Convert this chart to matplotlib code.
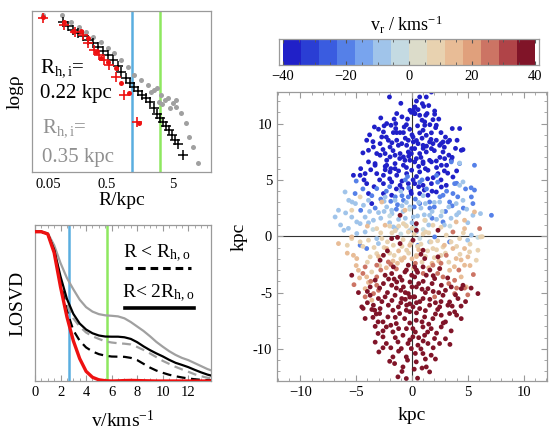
import numpy as np
import matplotlib
matplotlib.use("Agg")
import matplotlib.pyplot as plt
from matplotlib.colors import ListedColormap, BoundaryNorm
from matplotlib.ticker import MultipleLocator, FixedLocator, NullLocator, FuncFormatter

plt.rcParams['font.family'] = ['Liberation Serif', 'DejaVu Serif']
plt.rcParams['mathtext.fontset'] = 'custom'
plt.rcParams['mathtext.rm'] = 'Liberation Serif'
plt.rcParams['mathtext.it'] = 'Liberation Serif:italic'
plt.rcParams['mathtext.bf'] = 'Liberation Serif:bold'

# ---------------- data: density profile (top-left) ----------------
black_R = [0.108, 0.128, 0.153, 0.182, 0.216, 0.258, 0.307, 0.366, 0.435, 0.518, 0.617, 0.734,
           0.815, 0.97, 1.11, 1.28, 1.47, 1.69, 1.95, 2.24, 2.57, 2.86, 3.18, 3.53, 3.91, 4.35,
           4.83, 5.36, 5.95, 7.09]
black_logrho = [9.32, 9.07, 8.82, 8.63, 8.45, 8.20, 8.01, 7.76, 7.52, 7.27, 6.96, 6.58,
                6.21, 5.84, 5.53, 5.28, 5.03, 4.78, 4.60, 4.35, 3.98, 3.60, 3.35, 3.11, 2.86, 2.61,
                2.30, 1.99, 1.74, 1.06]
red_cross_R = [0.055, 0.111, 0.164, 0.216, 0.258, 0.318, 0.378, 0.45, 0.536, 0.684, 0.905, 1.43]
red_cross_logrho = [9.55, 9.13, 8.70, 8.51, 8.01, 7.58, 7.27, 6.96, 6.65, 5.90, 4.78, 3.11]
red_dot_R = [0.054, 0.111, 0.153, 0.202, 0.258, 0.34, 0.405, 0.518, 0.684, 0.815, 1.08, 1.53]
red_dot_logrho = [9.63, 9.32, 8.76, 8.76, 8.32, 7.45, 7.08, 6.83, 6.46, 5.53, 4.91, 3.04]
grey_R = [0.055, 0.107, 0.143, 0.188, 0.24, 0.307, 0.405, 0.518, 0.638, 0.815, 1.04, 1.28,
          1.64, 2.09, 2.58, 3.29, 3.78, 4.2, 5.0, 5.55, 6.6, 7.87, 8.73, 10.0, 12.0,
          2.35, 2.9, 3.5, 4.6, 5.7, 3.05]
grey_logrho = [9.75, 9.75, 9.32, 9.01, 8.70, 8.39, 8.07, 7.70, 7.39, 6.96, 6.52, 6.02,
               5.71, 5.40, 5.09, 4.78, 4.47, 4.60, 4.29, 4.04, 3.66, 3.04, 2.17, 1.55, 0.56,
               4.97, 5.22, 4.22, 3.98, 4.47, 4.35]
R_tick_pos = [0.0655, 0.5, 5]
R_ticklabels = ["0.05", "0.5", "5"]
R_blue = 1.22
R_green = 3.2

# ---------------- data: LOSVD (bottom-left) ----------------
v_grid = [0, 0.5, 1, 1.5, 2, 2.5, 3, 3.5, 4, 4.5, 5, 5.5, 6, 6.5, 7, 7.5, 8, 8.5, 9, 9.5,
          10, 10.5, 11, 11.5, 12, 12.5, 13, 13.5, 14]
losvd_red = [1.0, 1.0, 0.985, 0.86, 0.63, 0.43, 0.27, 0.15, 0.065, 0.025, 0.008, 0.002, 0.0,
             0.001, 0.003, 0.004, 0.003, 0.002, 0.001, 0, 0, 0, 0, 0, 0, 0, 0, 0, 0]
losvd_black = [1.0, 1.0, 0.985, 0.88, 0.70, 0.55, 0.45, 0.385, 0.345, 0.32, 0.305, 0.298, 0.297,
               0.297, 0.293, 0.282, 0.26, 0.232, 0.207, 0.185, 0.165, 0.142, 0.122, 0.108, 0.093,
               0.075, 0.058, 0.043, 0.032]
losvd_grey = [1.0, 1.0, 0.99, 0.91, 0.79, 0.69, 0.615, 0.545, 0.495, 0.465, 0.448, 0.44, 0.437,
              0.433, 0.42, 0.395, 0.365, 0.335, 0.30, 0.262, 0.23, 0.20, 0.175, 0.155, 0.14,
              0.12, 0.10, 0.08, 0.065]
losvd_grey_dash = [1.0, 1.0, 0.985, 0.88, 0.68, 0.52, 0.42, 0.365, 0.325, 0.30, 0.282, 0.266,
                   0.258, 0.253, 0.25, 0.245, 0.228, 0.208, 0.185, 0.16, 0.135, 0.115, 0.095,
                   0.078, 0.062, 0.045, 0.032, 0.022, 0.015]
losvd_black_dash = [1.0, 1.0, 0.985, 0.87, 0.66, 0.47, 0.34, 0.27, 0.225, 0.198, 0.18, 0.17,
                    0.164, 0.163, 0.162, 0.155, 0.14, 0.115, 0.09, 0.07, 0.055, 0.042, 0.032,
                    0.024, 0.017, 0.012, 0.008, 0.006, 0.004]
v_blue = 2.66
v_green = 5.61

# ---------------- data: sky map coloured by v_r (right) ----------------
vr_levels = [-38, -20, -9, -3, 8, 15, 25, 38]
xy_m38 = [(-2.02,12.36),(-1.37,10.89),(-0.18,11.18),(0.12,11.18),(0.27,11.47),(0.27,10.89),(-3.37,9.70),
    (-2.27,10.0),(-1.88,9.85),(-1.46,10.0),(-1.46,9.56),(-2.56,9.26),(-2.71,8.81),(-1.67,9.2),(-1.37,9.2),
    (-1.07,9.2),(-0.77,9.2),(-4.06,8.52),(-3.9,7.63),(-3.46,7.92),(-2.86,8.22),(-2.12,8.52),(-1.97,7.92),
    (-1.37,8.52),(-1.22,8.07),(-0.92,8.22),(-0.48,8.07),(-0.33,8.52),(0.12,8.37),(-0.03,7.78),(-3.16,7.34),
    (-2.86,7.19),(-2.41,7.34),(-1.97,7.04),(-1.52,7.19),(-1.07,7.34),(-0.77,7.04),(-0.33,7.48),(-0.18,6.74),
    (-0.63,6.74),(-2.27,6.74),(-3.31,6.45),(-1.52,6.45),
    (1.74,12.8),(0.69,12.36),(1.28,12.36),(0.93,11.77),(1.05,11.53),(0.24,11.47),(0.54,11.24),(-0.06,11.0),
    (0.24,10.89),(0.69,10.74),(1.23,10.74),(1.35,10.89),(2.03,11.12),(2.03,10.83),(1.88,10.35),(1.14,10.15),
    (1.14,9.85),(2.18,9.85),(2.12,9.64),(3.61,9.56),(4.27,9.56),(0.99,9.41),(0.69,9.18),(1.74,9.18),
    (1.28,8.96),(0.09,8.81),(3.37,8.52),(3.22,8.37),(4.04,8.52),(2.78,8.37),(1.58,8.37),(1.88,8.22),
    (2.18,8.52),(2.48,8.07),(0.54,8.22),(0.99,8.07),(0.24,7.78),(4.57,7.69),(2.78,7.48),(1.74,7.78),
    (1.28,7.48),(0.69,7.34),(2.93,6.89),(3.52,6.74),(1.58,6.74),(2.18,6.68),(0.39,6.89),(0.99,6.6),
    (-0.06,7.34),
    (-3.31,6.3),(-2.27,6.3),(-1.52,6.0),(-0.77,6.3),(-5.25,5.41),(-4.65,5.41),(-4.2,5.56),(-3.16,5.56),
    (-2.56,5.41),(-1.97,5.71),(-1.37,5.41),(-0.48,5.56),(-0.03,5.86),(-4.06,4.67),(-2.56,4.67),
    (-1.82,4.82),(-1.07,4.52),(-0.33,4.67),(-3.9,3.79),(-3.61,2.9),(-2.56,3.79),(-1.82,3.64),
    (0.24,6.6),(0.99,6.45),(1.74,6.6),(2.63,6.3),(0.69,5.71),(1.43,5.86),(2.33,5.56),(3.67,5.26),
    (0.24,4.67),(0.99,4.52),(1.74,4.67),(2.63,4.37),(3.07,4.52),(-0.06,3.79),(0.69,3.79),(1.43,3.64),
    (2.18,3.93),(4.42,7.63),(2.62,8.22),(0.5,9.8),(-0.5,9.9),(1.6,9.9),(-0.4,10.4),(0.9,8.7),
    (-1.9,6.0),(2.9,5.8),(-2.9,5.0),(1.9,5.2),(0.4,5.3),(-1.1,6.9),(0.6,6.2),(3.3,7.2),(-4.6,6.0),
    (-0.9,4.2),(1.1,4.1),
    (-3.0,9.5),(-2.5,9.8),(-3.8,9.0),(-2.3,8.8),(-1.8,8.3),(-0.6,8.7),(0.4,8.5),(1.3,8.0),(2.0,7.6),
    (2.5,7.0),(-3.5,8.4),(-4.4,7.4),(-2.6,7.7),(-0.2,9.5),(0.9,10.3),(-0.9,10.6),(0.4,12.0),(-1.0,11.8),
    (1.5,11.6),(2.6,9.2),(3.0,8.8),(3.9,7.8),(3.6,7.0),(2.2,6.1),(1.2,6.0),(-0.5,6.1),(-1.2,5.8),
    (-2.4,5.9),(-3.7,5.9),(-4.3,5.0),(-3.4,4.4),(-2.0,5.1),(-0.9,4.9),(0.1,5.0),(1.4,5.1),(2.6,5.0),
    (3.2,5.6),(4.0,5.8),(1.8,4.0),(-1.4,4.2),(-0.1,4.0),(0.6,4.4),(0.0,9.0),(-1.6,10.4),(2.4,10.4),
    (-2.8,10.5),(1.7,8.6),(-0.3,7.1),(0.8,7.0),(1.0,7.8),(-1.7,7.6),(-2.4,6.2),(3.1,6.3),(-3.9,6.6),
    (2.9,7.9),(-0.7,9.7)]
xy_m20 = [(3.52,6.6),(4.27,6.45),(5.6,6.3),(3.82,4.67),(2.78,3.64),(3.67,3.79),(5.32,3.49),(5.46,2.9),
    (0.69,2.9),(1.58,3.04),(3.37,3.04),(2.78,1.27),(7.12,1.86),(-3.16,4.23),(-5.1,3.79),(-0.77,3.19),
    (-0.33,3.49),(-4.65,-0.8),(-4.06,-1.09),(3.37,-0.5),(2.03,-0.06),(0.54,-0.8),(-1.5,3.5),(0.3,3.3),
    (1.3,4.2),(-0.3,4.3),(-2.3,4.0),(2.3,4.8),(-0.6,5.0),(4.8,4.2),(5.3,4.3),(3.0,2.2),(-2.0,4.4),
    (0.9,5.0),(-1.3,2.8),(2.0,2.6),(-5.0,4.9),(-4.4,4.2),
    (-3.6,3.6),(-2.8,3.3),(-1.9,3.1),(-0.9,3.6),(0.2,2.6),(1.6,2.5),(2.5,3.5),(3.1,4.0),(4.1,3.5),
    (4.6,2.5),(-4.6,2.3),(-3.3,2.5),(0.7,4.8),(-0.4,5.3),(2.2,5.4),(5.6,4.1),(1.8,1.6),(-1.4,2.4),
    (4.0,4.7),(3.6,2.7)]
xy_m9 = [(4.27,6.5),(4.57,4.82),(4.27,4.52),(4.57,3.19),(2.48,3.04),(3.96,2.9),(1.58,1.86),(5.46,1.86),
    (6.14,2.01),(5.32,0.1),(-2.41,3.49),(-6.0,3.93),(-5.67,3.19),(-5.37,3.04),(-5.07,2.9),(-4.35,2.75),
    (-3.9,3.19),(-6.59,2.31),(-6.89,1.71),(-5.95,2.07),(-4.95,1.27),(-4.65,1.12),(-6.1,0.53),(-4.95,0.24),
    (-4.2,0.38),(-3.46,1.42),(-1.67,0.83),(-1.82,2.31),(-2.27,2.6),(-1.52,3.19),(-0.18,2.6),(0.12,1.71),
    (-3.16,-0.21),(-3.01,-0.65),(-0.03,-0.5),(1.58,-0.5),(4.99,-0.35),(-1.0,4.0),(-0.5,3.0),(0.8,2.5),
    (-1.8,2.0),(-0.8,2.2),(0.5,1.8),(1.8,2.2),(1.0,3.6),(-1.2,1.5),(1.5,1.0),(0.0,1.2),(2.0,3.0),
    (-2.8,1.6),(3.5,1.6),(-3.8,2.2),(2.6,1.8),(4.2,2.1),(-0.2,0.5),(1.2,2.9),(-2.5,3.1),
    (-5.4,1.7),(-4.2,1.7),(-3.9,1.2),(-2.5,2.2),(-2.0,1.2),(-1.4,0.7),(-0.6,1.6),(0.4,0.4),(1.1,1.9),
    (2.2,1.5),(2.9,1.0),(4.0,1.9),(4.9,2.4),(-6.4,1.0),(-5.7,0.7),(3.3,2.6),(0.6,3.0),(-0.9,2.7),
    (5.0,1.2),(-3.0,2.1)]
xy_m3 = [(-0.2,2.4),(2.7,2.2),(0.3,0.9),(-0.6,1.0),(1.0,0.6),(-2.0,1.8),(1.2,1.4),(-1.0,0.2),
    (0.7,-0.2),(3.4,0.9),(-3.5,0.6),(5.9,-0.1)]
xy_p8 = [(-4.65,3.49),(-5.4,2.31),(-3.16,0.68),(-0.77,1.12),(-0.33,0.38),(-5.4,-0.21),(1.14,1.42),
    (1.88,0.98),(1.23,0.38),(3.07,0.1),(6.29,-0.04),(-4.65,-0.5),(-3.9,-0.35),(-3.75,-1.83),
    (-3.16,-1.54),(-1.67,-0.8),(-0.48,-1.24),(0.12,-2.87),(-3.61,-3.17),(4.27,-0.21),(6.14,-0.06),
    (1.88,-1.09),(2.78,-0.95),(5.16,-1.39),(5.91,-1.24),(0.39,-1.69),(5.76,-2.13),(-1.5,0.5),
    (-0.8,-0.3),(0.2,0.2),(0.8,-0.7),(1.5,0.3),(-2.2,-0.5),(-0.3,-1.5),(1.2,-1.8),(-2.0,0.9),
    (2.3,-0.4),(2.6,0.8),(3.0,-1.5),(-2.5,-1.0),(-1.0,-2.0),(0.9,-2.3),(2.2,-1.2),(-2.9,-2.6),
    (4.0,-0.9),(-0.5,0.9),
    (-4.4,-0.9),(-3.4,-1.0),(-2.7,-0.2),(-1.8,0.3),(-1.2,0.9),(-0.1,-0.6),(0.5,-0.9),(1.0,0.2),
    (1.7,-0.5),(2.6,-1.7),(3.5,-0.5),(4.6,0.3),(5.2,-0.7),(-5.8,-0.8),(-4.0,-2.3),(-2.0,-1.5),
    (0.0,0.7),(1.4,-1.3),(3.3,-2.3),(-1.6,-1.7),(-0.9,-0.9),(2.0,-1.9),(-2.8,0.3),(4.3,-1.6)]
xy_p15 = [(-2.41,0.98),(-0.63,2.31),(-2.71,3.04),(3.96,1.27),(4.71,1.42),(4.71,0.68),(5.6,2.16),
    (-6.59,-0.65),(-5.4,-0.06),(-5.25,-1.69),(-4.95,-1.98),(-2.27,-1.09),(-4.8,-3.02),(-0.92,-2.13),
    (-4.06,-3.61),(-4.2,-4.65),(3.67,-1.09),(4.71,-1.09),(3.96,-1.98),(5.01,-1.83),(3.37,-3.02),
    (4.71,-2.57),(-3.6,-5.68),(4.86,-4.5),(4.41,-3.61),(0.6,-1.2),(-1.2,-1.3),(-1.7,-2.2),(0.0,-2.0),
    (1.8,-2.4),(-4.0,0.9),(2.5,-2.9),(-0.2,-0.8),
    (-5.8,-1.5),(-5.0,-2.6),(-3.0,-1.8),(-2.3,-2.8),(-1.3,-2.4),(0.4,-1.8),(1.5,-2.8),(2.4,-2.2),
    (3.8,-2.7),(4.4,-2.1),(-3.9,-4.1),(-4.7,-3.7),(5.2,-2.6),(2.9,-0.8),(-0.7,-1.9)]
xy_p25 = [(6.06,0.68),(3.67,0.38),(-4.2,-2.72),(-3.16,-2.57),(-2.12,-2.28),(-3.16,-3.61),(-3.16,-4.35),
    (-4.2,-5.38),(3.07,-1.69),(1.88,-2.57),(2.78,-3.61),(3.82,-3.91),(2.03,-5.38),(-3.45,-5.09),
    (3.82,-5.09),(4.71,-4.6),(1.0,-3.3),(-1.4,-2.9),(0.3,-2.4),(-5.2,-4.3),(5.5,-3.4),
    (-4.4,-3.3),(-3.7,-4.0),(-2.8,-3.0),(-1.9,-2.5),(2.3,-3.3),(3.3,-4.2),(4.2,-3.0),(2.6,-2.4),
    (-3.0,-4.8),(4.0,-4.6),(5.0,-5.2)]
xy_p38 = [(-1.07,1.86),(0.39,1.12),(2.33,0.53),(0.39,0.53),(-1.82,-0.21),(-2.56,-1.69),(-1.07,-0.65),
    (-2.86,-2.13),(-1.67,-2.72),(-0.33,-2.57),(-5.4,-3.46),(-2.41,-3.46),(-1.82,-3.31),(-1.07,-3.61),
    (-0.63,-3.17),(-0.03,-3.46),(-3.75,-4.5),(-2.56,-4.2),(-1.82,-4.35),(-1.37,-4.06),(-0.77,-4.5),
    (-0.18,-4.06),(-3.75,-5.24),(-3.01,-5.53),(-2.41,-5.38),(-1.52,-5.24),(-0.92,-5.53),(-0.33,-5.09),
    (0.12,-5.38),(-4.5,-6.27),(-3.46,-6.12),(-2.86,-6.42),(-2.12,-6.12),(-1.22,-6.27),(-0.48,-6.12),
    (0.09,-0.35),(0.99,-1.24),(1.14,-1.98),(2.33,-1.83),(0.24,-2.72),(0.99,-2.72),(2.48,-2.87),
    (0.24,-3.61),(1.28,-3.46),(2.03,-3.76),(4.57,-4.35),(0.39,-4.5),(1.43,-4.65),(2.63,-4.35),
    (3.52,-4.5),(4.42,-4.65),(5.91,-5.09),(0.24,-5.38),(0.99,-5.53),(2.78,-5.24),(3.37,-5.83),
    (4.12,-5.53),(0.09,-6.27),(0.69,-6.42),(1.58,-6.12),(2.48,-6.27),(3.22,-6.12),(3.82,-6.71),
    (-4.38,-6.4),(-3.34,-6.57),(-2.9,-6.86),(-2.16,-7.16),(-1.71,-6.57),(-1.11,-6.86),(-0.51,-6.57),
    (-3.04,-7.6),(-2.3,-8.05),(-1.41,-7.75),(-0.66,-7.31),(0.38,-7.46),(1.13,-7.16),(1.87,-7.31),
    (2.62,-7.01),(3.37,-6.86),(4.41,-7.31),(0.08,-8.2),(0.98,-8.05),(1.72,-8.2),(2.62,-8.05),
    (3.51,-8.4),(-3.04,-8.63),(-1.71,-8.49),(-0.81,-8.79),(0.08,-8.93),(1.13,-8.79),(2.02,-9.08),
    (-2.6,-8.93),(-1.26,-9.38),(-0.36,-9.52),(0.53,-9.67),(1.43,-9.52),(2.47,-9.52),(-2.3,-9.52),
    (-2.97,-10.27),(-0.96,-9.97),(-0.06,-9.97),(0.98,-10.41),(1.72,-10.56),(-1.71,-10.71),
    (-0.51,-10.71),(-1.56,-11.3),(-0.81,-11.6),(0.38,-11.15),(1.28,-11.6),(1.58,-12.04),
    (-1.26,-12.48),(-0.51,-12.63),(0.5,-12.6),
    (-0.5,-3.0),(0.5,-3.2),(1.0,-4.0),(-1.0,-4.8),(0.0,-4.5),(1.6,-3.0),(-1.6,-3.8),(0.7,-5.8),
    (-0.2,-6.0),(1.9,-4.9),(-2.2,-5.0),(2.3,-6.5),(-1.0,-5.9),(0.4,-6.8),(1.2,-6.6),(-2.6,-7.6),
    (-0.2,-7.7),(1.5,-7.8),(-1.2,-8.2),(0.6,-9.0),(-3.5,-7.2),(3.0,-7.6),(-0.4,-11.0),(0.8,-10.0),
    (-1.9,-9.9),(2.1,-5.9),(-3.6,-6.5),
    (-4.8,-5.0),(-4.0,-4.9),(-3.3,-3.9),(-2.9,-4.6),(-2.1,-3.8),(-1.4,-4.6),(-0.6,-5.0),(0.6,-4.2),
    (1.2,-5.0),(1.8,-4.2),(2.4,-5.0),(3.0,-4.8),(3.2,-3.7),(3.9,-5.2),(4.8,-5.8),(5.3,-4.6),
    (-2.7,-5.8),(-1.8,-5.7),(-0.6,-5.6),(0.4,-5.9),(1.6,-5.6),(2.6,-5.8),(3.6,-6.2),(4.4,-6.2),
    (-4.0,-5.9),(-3.2,-6.9),(-1.5,-7.2),(-0.2,-6.7),(0.9,-7.6),(2.1,-6.9),(2.8,-7.7),(4.0,-7.0),
    (-4.2,-7.3),(-2.6,-8.4),(-1.9,-7.9),(-0.5,-8.2),(0.3,-8.5),(1.4,-8.5),(2.2,-8.6),(3.0,-9.1),
    (-3.3,-8.0),(-1.5,-9.0),(-0.2,-9.2),(1.0,-9.3),(1.9,-9.9),(-2.6,-9.9),(-1.2,-10.2),(0.3,-10.4),
    (1.2,-10.9),(-2.0,-11.1),(-0.9,-12.0),(0.2,-11.8),(0.9,-11.7),(2.1,-10.9),(-3.3,-9.4),(3.4,-9.6),
    (0.4,-3.0),(-0.9,-3.9),(1.9,-3.5),(-1.3,-0.1),(-2.2,-1.3),(0.8,-1.6),(-0.2,-5.4),(0.9,-4.7)]
cbar_ticks = [-40, -20, 0, 20, 40]

# colormap (discrete, 14 steps)
cb_colors = ['#2020c8', '#2a3ed4', '#3a5ce0', '#5580e8', '#78a4ee', '#a0c4ea', '#c4dae2',
             '#dcdcca', '#e8d2b0', '#e8bc96', '#e0a07c', '#cc7464', '#b04448', '#801428']
cmap = ListedColormap(cb_colors)
bounds = np.linspace(-40, 40, len(cb_colors) + 1)
norm = BoundaryNorm(bounds, cmap.N)

frame_col = '#9a9a9a'

def style_frame(ax):
    for s in ax.spines.values():
        s.set_color(frame_col)
        s.set_linewidth(0.9)

fig = plt.figure(figsize=(5.56, 4.36), dpi=100)

# ---- top-left ----
ax1 = fig.add_axes([0.0576, 0.6055, 0.3219, 0.3693])
ax1.set_xscale('log')
ax1.set_xlim(0.037, 19)
ax1.set_ylim(0, 10)
ax1.axvline(R_blue, color='#5aaee0', lw=1.8, zorder=1)
ax1.axvline(R_green, color='#8ee860', lw=1.8, zorder=1)
ax1.plot(grey_R, grey_logrho, 'o', color='#a0a0a0', ms=3.6, mew=0, zorder=2)
ax1.plot(black_R, black_logrho, '+', color='black', ms=7, mew=1.1, zorder=3)
ax1.plot(red_dot_R, red_dot_logrho, 'o', color='#ee1111', ms=3.6, mew=0, zorder=4)
ax1.plot(red_cross_R, red_cross_logrho, '+', color='#ee1111', ms=7, mew=1.2, zorder=4)
ax1.xaxis.set_major_locator(FixedLocator(R_tick_pos))
ax1.set_xticklabels(R_ticklabels)
ax1.xaxis.set_minor_locator(NullLocator())
ax1.set_yticks([])
ax1.tick_params(axis='x', length=0, labelsize=10.5, pad=4)
ax1.set_xlabel('R/kpc', fontsize=14, labelpad=1)
ax1.set_ylabel('logρ', fontsize=14, labelpad=6)
ax1.text(0.045, 0.646, r'R$_{\mathrm{h,i}}$=', transform=ax1.transAxes, fontsize=15,
         va='center', ha='left', color='black')
ax1.text(0.045, 0.49, '0.22 kpc', transform=ax1.transAxes, fontsize=15,
         va='center', ha='left', color='black')
ax1.text(0.055, 0.273, r'R$_{\mathrm{h,i}}$=', transform=ax1.transAxes, fontsize=15,
         va='center', ha='left', color='#909090')
ax1.text(0.055, 0.093, '0.35 kpc', transform=ax1.transAxes, fontsize=15,
         va='center', ha='left', color='#909090')
style_frame(ax1)

# ---- bottom-left ----
ax2 = fig.add_axes([0.0629, 0.1261, 0.316, 0.3578])
ax2.set_xlim(0, 13.75)
ax2.set_ylim(0, 1.045)
ax2.axvline(v_blue, color='#5aaee0', lw=1.8, zorder=1)
ax2.axvline(v_green, color='#8ee860', lw=1.8, zorder=1)
ax2.plot(v_grid, losvd_grey, color='#a0a0a0', lw=1.6, zorder=2)
ax2.plot(v_grid, losvd_grey_dash, color='#a0a0a0', lw=1.6, ls=(0, (4, 2.5)), zorder=2)
ax2.plot(v_grid, losvd_black, color='black', lw=1.6, zorder=3)
ax2.plot(v_grid, losvd_black_dash, color='black', lw=1.6, ls=(0, (4, 2.5)), zorder=3)
ax2.plot(v_grid, losvd_red, color='#ee1111', lw=2.4, zorder=4)
ax2.plot([0.512, 0.888], [0.724, 0.724], transform=ax2.transAxes, color='black', lw=2.2,
         ls=(0, (2.5, 1.6)))
ax2.plot([0.512, 0.905], [0.468, 0.468], transform=ax2.transAxes, color='black', lw=2.6)
ax2.text(0.694, 0.82, r'R < R$_{\mathrm{h,o}}$', transform=ax2.transAxes, fontsize=14,
         ha='center', va='center')
ax2.text(0.703, 0.564, r'R< 2R$_{\mathrm{h,o}}$', transform=ax2.transAxes, fontsize=14,
         ha='center', va='center')
ax2.xaxis.set_major_locator(MultipleLocator(2))
ax2.xaxis.set_minor_locator(MultipleLocator(0.5))
ax2.set_yticks([])
ax2.tick_params(axis='x', which='both', direction='in', top=True, color=frame_col,
                labelsize=10.5)
ax2.tick_params(axis='x', which='major', length=4)
ax2.tick_params(axis='x', which='minor', length=2)
ax2.set_xlabel(r'v/kms$^{\mathrm{-1}}$', fontsize=14, labelpad=8)
ax2.set_ylabel('LOSVD', fontsize=14, labelpad=6)
style_frame(ax2)

# ---- right: sky map ----
ax3 = fig.add_axes([0.4982, 0.1261, 0.4856, 0.6628])
groups = [xy_m38, xy_m20, xy_m9, xy_m3, xy_p8, xy_p15, xy_p25, xy_p38]
xs, ys, cs = [], [], []
for lev, pts in zip(vr_levels, groups):
    for (x, y) in pts:
        xs.append(x); ys.append(y); cs.append(lev)
ax3.axhline(0, color='#333333', lw=0.8, zorder=1)
ax3.axvline(0, color='#333333', lw=0.8, zorder=1)
ax3.scatter(xs, ys, c=cs, cmap=cmap, norm=norm, s=12, linewidths=0, zorder=2)
ax3.set_xlim(-12.1, 12.1)
ax3.set_ylim(-12.85, 12.8)
ax3.xaxis.set_major_locator(MultipleLocator(5))
ax3.xaxis.set_minor_locator(MultipleLocator(1))
ax3.yaxis.set_major_locator(MultipleLocator(5))
ax3.yaxis.set_minor_locator(MultipleLocator(1))
ax3.tick_params(which='both', direction='in', top=True, right=True, color=frame_col,
                labelsize=10.5)
ax3.tick_params(which='major', length=4)
ax3.tick_params(which='minor', length=2)
ax3.yaxis.set_major_formatter(FuncFormatter(lambda v, p: '%d' % v))
ax3.set_xlabel('kpc', fontsize=14, labelpad=6)
ax3.set_ylabel('kpc', fontsize=14, labelpad=4)
style_frame(ax3)

# ---- colorbar ----
cax = fig.add_axes([0.5018, 0.8509, 0.4676, 0.0596])
centers = 0.5 * (bounds[:-1] + bounds[1:])
cax.pcolormesh(bounds, [0, 1], centers[np.newaxis, :], cmap=cmap, norm=norm)
cax.set_xlim(-41.3, 41.3)
cax.set_ylim(0, 1)
cax.set_yticks([])
cax.xaxis.set_major_locator(FixedLocator(cbar_ticks))
cax.xaxis.set_minor_locator(MultipleLocator(5))
cax.tick_params(axis='x', which='both', direction='in', top=True, color='#555555',
                labelsize=10.5)
cax.tick_params(axis='x', which='major', length=3)
cax.tick_params(axis='x', which='minor', length=2)
style_frame(cax)
fig.text(0.7315, 0.9427, r'v$_{\mathrm{r}}$ / kms$^{\mathrm{-1}}$', fontsize=13,
         ha='center', va='center')

fig.savefig('out.png', dpi=100)
